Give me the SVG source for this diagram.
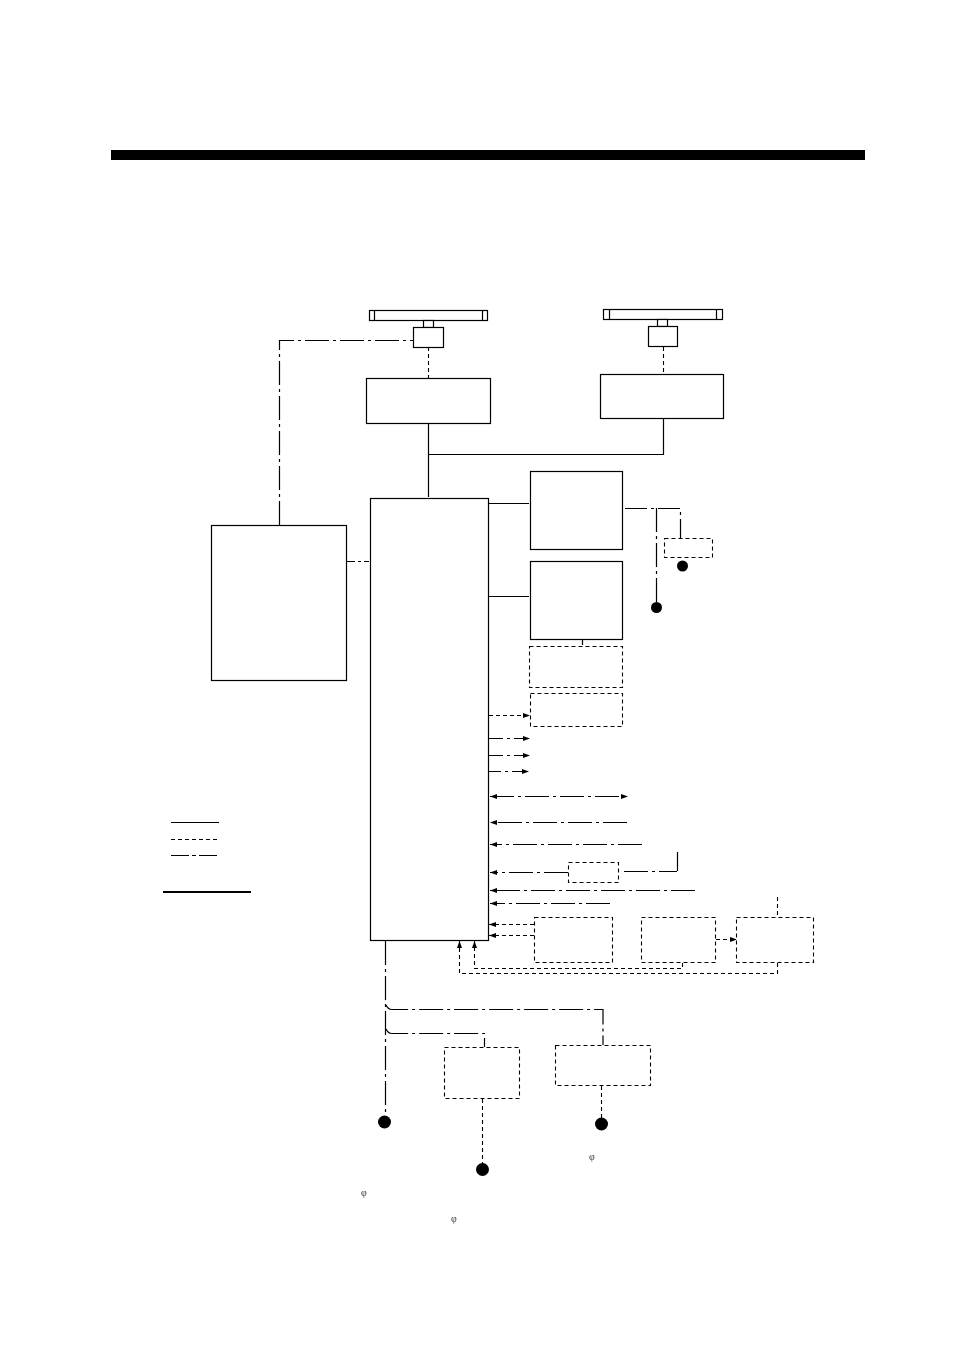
<svg xmlns="http://www.w3.org/2000/svg" width="954" height="1350" viewBox="0 0 954 1350">
<style>
.b{fill:#fff;stroke:#000;stroke-width:1.2}
.d{fill:#fff;stroke:#000;stroke-width:1.1;stroke-dasharray:4 3}
.c{fill:none;stroke:#000;stroke-width:1.2}
.cd{fill:none;stroke:#000;stroke-width:1.1;stroke-dasharray:4 3}
.cc{fill:none;stroke:#000;stroke-width:1.2;stroke-dasharray:24 4 3 4}
.h{fill:#000;stroke:none}
.p{font-family:"Liberation Serif",serif;font-size:10px;fill:#333}
</style>
<defs>
<marker id="a" markerUnits="userSpaceOnUse" markerWidth="8" markerHeight="6" refX="7" refY="2.500" orient="auto-start-reverse"><path d="M0 0L7 2.500L0 5Z" fill="#000"/></marker>
<filter id="g" x="0" y="0" width="1" height="1" filterUnits="objectBoundingBox"><feColorMatrix type="saturate" values="0"/></filter>
</defs>
<rect width="954" height="1350" fill="#fff"/>
<rect id="title-bar" x="111" y="150" width="754" height="10" fill="#000"/>
<g id="connectors">
<path class="cc" d="M279.500 525V340.500H413"/>
<path class="cd" d="M428.500 347V378"/>
<path class="cd" d="M663.500 347V373"/>
<path class="c" d="M428.500 423V497M428.500 454.500H663.500V418"/>
<path class="c" d="M489 503.500H529M489 596.500H529M582.500 640V645"/>
<path class="cc" style="stroke-dasharray:8 3 3 3" d="M347 561.500H369"/>
<path class="cc" style="stroke-dasharray:22 4 3 4" d="M625 508.500H680.500V538"/>
<path class="cc" d="M656.500 508V602"/>
<path class="cd" d="M489 715.500H530" marker-end="url(#a)"/>
<path class="cc" style="stroke-dasharray:14 4 3 4" d="M489 738.500H530" marker-end="url(#a)"/>
<path class="cc" style="stroke-dasharray:14 4 3 4" d="M489 755.500H530" marker-end="url(#a)"/>
<path class="cc" style="stroke-dasharray:14 4 3 4" d="M487 771.500H529" marker-end="url(#a)"/>
<path class="cc" d="M490 796.500H628" marker-start="url(#a)" marker-end="url(#a)"/>
<path class="cc" d="M627 822.500H490" marker-end="url(#a)"/>
<path class="cc" d="M642 844.500H490" marker-end="url(#a)"/>
<path class="cc" d="M568 872.500H490" marker-end="url(#a)"/>
<path class="cc" d="M624 871.500H677"/>
<path class="c" d="M677.500 852V871"/>
<path class="cc" d="M695 890.500H490" marker-end="url(#a)"/>
<path class="cc" d="M610 903.500H490" marker-end="url(#a)"/>
<path class="cd" d="M534 924.500H489" marker-end="url(#a)"/>
<path class="cd" d="M534 935.500H489" marker-end="url(#a)"/>
<path class="cd" d="M716 939.500H737" marker-end="url(#a)"/>
<path class="cd" d="M777.500 897V917"/>
<path class="cd" d="M682.500 963V968.500H474.500V941" marker-end="url(#a)"/>
<path class="cd" d="M777.500 963V973.500H459.500V941" marker-end="url(#a)"/>
<path class="cc" d="M385.500 941V1117"/>
<path class="cc" d="M386 1005Q388 1009.500 392 1009.500H603V1045"/>
<path class="cc" d="M386 1029Q388 1033.500 392 1033.500H484.500V1047"/>
<path class="cd" d="M482.500 1099V1165"/>
<path class="cd" d="M601.500 1086V1118"/>
</g>
<g id="antenna-1"><rect class="b" x="369.500" y="310.500" width="118" height="10"/><path class="c" d="M374.500 310.500V320.500M482.500 310.500V320.500"/><rect class="b" x="423.500" y="320.500" width="10" height="7"/><rect class="b" x="413.500" y="327.500" width="30" height="20"/></g>
<g id="antenna-2"><rect class="b" x="603.500" y="309.500" width="119" height="10"/><path class="c" d="M609.500 309.500V319.500M716.500 309.500V319.500"/><rect class="b" x="657.500" y="319.500" width="10" height="7"/><rect class="b" x="648.500" y="326.500" width="29" height="20"/></g>
<g id="node-unit-1"><rect class="b" x="366.500" y="378.500" width="124" height="45"/></g>
<g id="node-unit-2"><rect class="b" x="600.500" y="374.500" width="123" height="44"/></g>
<g id="node-main"><rect class="b" x="370.500" y="498.500" width="118" height="442"/></g>
<g id="node-left"><rect class="b" x="211.500" y="525.500" width="135" height="155"/></g>
<g id="node-r1"><rect class="b" x="530.500" y="471.500" width="92" height="78"/></g>
<g id="node-r2"><rect class="b" x="530.500" y="561.500" width="92" height="78"/></g>
<g id="node-r3"><rect class="d" x="529.500" y="646.500" width="93" height="41"/></g>
<g id="node-r4"><rect class="d" x="530.500" y="693.500" width="92" height="33"/></g>
<g id="node-small"><rect class="d" x="664.500" y="538.500" width="48" height="19"/></g>
<g id="node-mid"><rect class="d" x="568.500" y="862.500" width="50" height="20"/></g>
<g id="node-b1"><rect class="d" x="534.500" y="917.500" width="78" height="45"/></g>
<g id="node-b2"><rect class="d" x="641.500" y="917.500" width="74" height="45"/></g>
<g id="node-b3"><rect class="d" x="736.500" y="917.500" width="77" height="45"/></g>
<g id="node-low1"><rect class="d" x="444.500" y="1047.500" width="75" height="51"/></g>
<g id="node-low2"><rect class="d" x="555.500" y="1045.500" width="95" height="40"/></g>
<g id="terminals">
<circle class="h" cx="656.500" cy="607.500" r="5.500"/>
<circle class="h" cx="682.500" cy="566" r="5.500"/>
<circle class="h" cx="384.500" cy="1122" r="6.500"/>
<circle class="h" cx="482.500" cy="1169.500" r="6.500"/>
<circle class="h" cx="601.500" cy="1124" r="6.500"/>
</g>
<g id="legend">
<path class="c" d="M171 822.500H219"/>
<path class="cd" d="M171 839.500H217"/>
<path class="c" style="stroke-dasharray:18 3 4 3" d="M171 855.500H217"/>
<rect x="163" y="891" width="88" height="2" fill="#000"/>
</g>
<g filter="url(#g)">
<text class="p" x="592" y="1160" text-anchor="middle">φ</text>
<text class="p" x="364" y="1196" text-anchor="middle">φ</text>
<text class="p" x="454" y="1222" text-anchor="middle">φ</text>
</g>
</svg>
